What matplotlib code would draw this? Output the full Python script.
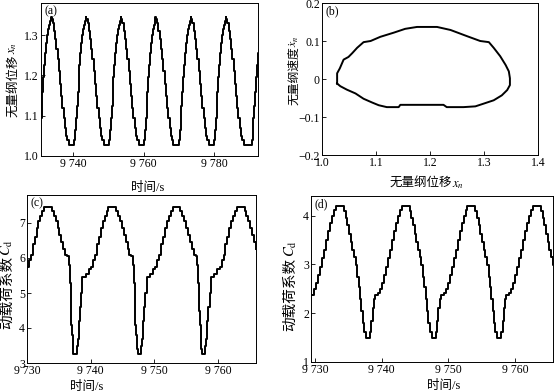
import matplotlib
matplotlib.use('Agg')
import matplotlib.pyplot as plt

plt.rcParams['font.family'] = ['Liberation Serif', 'Noto Sans CJK SC']
plt.rcParams['mathtext.fontset'] = 'stix'
plt.rcParams['axes.unicode_minus'] = True

# ---------------- data ----------------
# (a) displacement time history
a_t = [9730.8, 9731.05, 9731.3, 9731.55, 9731.8, 9732.05, 9732.3, 9732.55, 9732.8, 9733.1,
       9733.45, 9733.7, 9733.9, 9734.2, 9734.55, 9734.9, 9735.25, 9735.6, 9735.95, 9736.3, 9736.65, 9737.0, 9737.35, 9737.7, 9738.05, 9738.4, 9738.8,
       9740.3, 9740.55, 9740.8, 9741.05, 9741.3, 9741.55, 9741.8, 9742.05, 9742.3, 9742.55, 9742.8, 9743.1,
       9743.35, 9743.6, 9743.8, 9744.1, 9744.45, 9744.8, 9745.15, 9745.5, 9745.85, 9746.2, 9746.55, 9746.9, 9747.25, 9747.6, 9747.95, 9748.3, 9748.7,
       9750.2, 9750.45, 9750.7, 9750.95, 9751.2, 9751.45, 9751.7, 9751.95, 9752.2, 9752.45, 9752.7, 9753.0,
       9753.25, 9753.5, 9753.7, 9754.0, 9754.35, 9754.7, 9755.05, 9755.4, 9755.75, 9756.1, 9756.45, 9756.8, 9757.15, 9757.5, 9757.85, 9758.2, 9758.6,
       9760.1, 9760.35, 9760.6, 9760.85, 9761.1, 9761.35, 9761.6, 9761.85, 9762.1, 9762.35, 9762.6, 9762.9,
       9763.15, 9763.4, 9763.6, 9763.9, 9764.25, 9764.6, 9764.95, 9765.3, 9765.65, 9766.0, 9766.35, 9766.7, 9767.05, 9767.4, 9767.75, 9768.1, 9768.5,
       9770.0, 9770.25, 9770.5, 9770.75, 9771.0, 9771.25, 9771.5, 9771.75, 9772.0, 9772.25, 9772.5, 9772.8,
       9773.15, 9773.4, 9773.6, 9773.9, 9774.25, 9774.6, 9774.95, 9775.3, 9775.65, 9776.0, 9776.35, 9776.7, 9777.05, 9777.4, 9777.75, 9778.1, 9778.5,
       9780.0, 9780.25, 9780.5, 9780.75, 9781.0, 9781.25, 9781.5, 9781.75, 9782.0, 9782.25, 9782.5, 9782.8,
       9783.05, 9783.3, 9783.5, 9783.8, 9784.15, 9784.5, 9784.85, 9785.2, 9785.55, 9785.9, 9786.25, 9786.6, 9786.95, 9787.3, 9787.65, 9788.0, 9788.4,
       9790.7, 9790.95, 9791.2, 9791.45, 9791.7, 9791.95, 9792.2, 9792.45, 9792.7]
a_x = [1.095, 1.125, 1.16, 1.195, 1.225, 1.255, 1.28, 1.3, 1.315, 1.325,
       1.335, 1.345, 1.34, 1.33, 1.31, 1.29, 1.265, 1.24, 1.21, 1.18, 1.15, 1.12, 1.095, 1.07, 1.05, 1.04, 1.028,
       1.04, 1.065, 1.095, 1.125, 1.16, 1.195, 1.225, 1.255, 1.28, 1.3, 1.315, 1.325,
       1.335, 1.345, 1.34, 1.33, 1.31, 1.29, 1.265, 1.24, 1.21, 1.18, 1.15, 1.12, 1.095, 1.07, 1.05, 1.04, 1.028,
       1.04, 1.065, 1.095, 1.125, 1.16, 1.195, 1.225, 1.255, 1.28, 1.3, 1.315, 1.325,
       1.335, 1.345, 1.34, 1.33, 1.31, 1.29, 1.265, 1.24, 1.21, 1.18, 1.15, 1.12, 1.095, 1.07, 1.05, 1.04, 1.028,
       1.04, 1.065, 1.095, 1.125, 1.16, 1.195, 1.225, 1.255, 1.28, 1.3, 1.315, 1.325,
       1.335, 1.345, 1.34, 1.33, 1.31, 1.29, 1.265, 1.24, 1.21, 1.18, 1.15, 1.12, 1.095, 1.07, 1.05, 1.04, 1.028,
       1.04, 1.065, 1.095, 1.125, 1.16, 1.195, 1.225, 1.255, 1.28, 1.3, 1.315, 1.325,
       1.335, 1.345, 1.34, 1.33, 1.31, 1.29, 1.265, 1.24, 1.21, 1.18, 1.15, 1.12, 1.095, 1.07, 1.05, 1.04, 1.028,
       1.04, 1.065, 1.095, 1.125, 1.16, 1.195, 1.225, 1.255, 1.28, 1.3, 1.315, 1.325,
       1.335, 1.345, 1.34, 1.33, 1.31, 1.29, 1.265, 1.24, 1.21, 1.18, 1.15, 1.12, 1.095, 1.07, 1.05, 1.04, 1.028,
       1.04, 1.065, 1.095, 1.125, 1.16, 1.195, 1.225, 1.255, 1.28]

# (b) phase portrait
b_x = [1.028, 1.028, 1.033, 1.040, 1.049, 1.056, 1.065, 1.077, 1.090, 1.108, 1.133, 1.154, 1.176, 1.213,
       1.238, 1.268, 1.293, 1.309, 1.318, 1.330, 1.340, 1.346, 1.348, 1.348, 1.343, 1.333, 1.318, 1.299,
       1.284, 1.262, 1.231, 1.225, 1.145, 1.142, 1.120, 1.105, 1.093, 1.077, 1.062, 1.046, 1.034, 1.028]
b_v = [-0.012, 0.015, 0.028, 0.051, 0.058, 0.068, 0.082, 0.097, 0.100, 0.111, 0.122, 0.132, 0.137, 0.137,
       0.129, 0.113, 0.100, 0.097, 0.082, 0.060, 0.037, 0.020, 0.002, -0.016, -0.029, -0.043, -0.056, -0.065,
       -0.072, -0.074, -0.074, -0.068, -0.068, -0.074, -0.074, -0.069, -0.062, -0.052, -0.038, -0.028, -0.019, -0.012]

# (c) dynamic load coefficient
c_t = [9730.0, 9730.3, 9730.6, 9730.9, 9731.2, 9731.5, 9731.8, 9732.1, 9732.4, 9732.7, 9733.9, 9734.2, 9734.5, 9734.8,
       9735.1, 9735.4, 9735.7, 9736.0, 9736.3, 9736.6, 9736.75, 9736.85, 9736.95, 9737.1, 9737.2, 9737.3, 9737.8, 9738.0,
       9738.15, 9738.3, 9738.5, 9738.7, 9739.2, 9739.7,
       9740.1, 9740.4, 9740.7, 9741.0, 9741.3, 9741.6, 9741.9, 9742.2, 9742.5, 9742.8, 9744.0, 9744.3, 9744.6, 9744.9,
       9745.2, 9745.5, 9745.8, 9746.1, 9746.4, 9746.7, 9746.85, 9746.95, 9747.05, 9747.2, 9747.3, 9747.4, 9747.9, 9748.1,
       9748.25, 9748.4, 9748.6, 9748.8, 9749.3, 9749.8,
       9750.2, 9750.5, 9750.8, 9751.1, 9751.4, 9751.7, 9752.0, 9752.3, 9752.6, 9752.9, 9754.1, 9754.4, 9754.7, 9755.0,
       9755.3, 9755.6, 9755.9, 9756.2, 9756.5, 9756.8, 9756.95, 9757.05, 9757.15, 9757.3, 9757.4, 9757.5, 9758.0, 9758.2,
       9758.35, 9758.5, 9758.7, 9758.9, 9759.4, 9759.9,
       9760.3, 9760.6, 9760.9, 9761.2, 9761.5, 9761.8, 9762.1, 9762.4, 9762.7, 9763.0, 9764.2, 9764.5, 9764.8, 9765.1,
       9765.4, 9765.7, 9766.0]
c_cd = [5.75, 5.95, 6.1, 6.4, 6.6, 6.85, 7.05, 7.2, 7.35, 7.45, 7.35, 7.2, 7.05, 6.85,
        6.65, 6.45, 6.25, 6.1, 6.05, 5.8, 5.3, 4.5, 4.1, 3.8, 3.4, 3.25, 3.5, 3.7,
        4.2, 4.6, 5.0, 5.45, 5.55, 5.7,
        5.75, 5.95, 6.1, 6.4, 6.6, 6.85, 7.05, 7.2, 7.35, 7.45, 7.35, 7.2, 7.05, 6.85,
        6.65, 6.45, 6.25, 6.1, 6.05, 5.8, 5.3, 4.5, 4.1, 3.8, 3.4, 3.25, 3.5, 3.7,
        4.2, 4.6, 5.0, 5.45, 5.55, 5.7,
        5.75, 5.95, 6.1, 6.4, 6.6, 6.85, 7.05, 7.2, 7.35, 7.45, 7.35, 7.2, 7.05, 6.85,
        6.65, 6.45, 6.25, 6.1, 6.05, 5.8, 5.3, 4.5, 4.1, 3.8, 3.4, 3.25, 3.5, 3.7,
        4.2, 4.6, 5.0, 5.45, 5.55, 5.7,
        5.75, 5.95, 6.1, 6.4, 6.6, 6.85, 7.05, 7.2, 7.35, 7.45, 7.35, 7.2, 7.05, 6.85,
        6.65, 6.45, 6.25]

# (d) dynamic load coefficient
d_t = [9729.6, 9729.9, 9730.2, 9730.5, 9730.8, 9731.1, 9731.4, 9731.7, 9732.0, 9732.3, 9732.6, 9732.9, 9733.15,
       9734.35, 9734.6, 9734.85, 9735.1, 9735.35, 9735.6, 9735.85, 9736.1, 9736.35, 9736.55, 9736.75, 9736.95, 9737.15, 9737.35,
       9737.65, 9738.25, 9738.45, 9738.65, 9738.85, 9739.0, 9739.45, 9739.75, 9740.05, 9740.35, 9740.65, 9740.95, 9741.25,
       9741.55, 9741.85, 9742.15, 9742.45, 9742.75, 9743.0,
       9744.2, 9744.45, 9744.7, 9744.95, 9745.2, 9745.45, 9745.7, 9745.95, 9746.2, 9746.4, 9746.6, 9746.8, 9747.0, 9747.2,
       9747.5, 9748.1, 9748.3, 9748.5, 9748.7, 9748.85, 9749.3, 9749.6, 9749.9, 9750.2, 9750.5, 9750.8, 9751.1,
       9751.4, 9751.7, 9752.0, 9752.3, 9752.6, 9752.85,
       9754.05, 9754.3, 9754.55, 9754.8, 9755.05, 9755.3, 9755.55, 9755.8, 9756.05, 9756.25, 9756.45, 9756.65, 9756.85, 9757.05,
       9757.35, 9757.95, 9758.15, 9758.35, 9758.55, 9758.7, 9759.15, 9759.45, 9759.75, 9760.05, 9760.35, 9760.65, 9760.95,
       9761.25, 9761.55, 9761.85, 9762.15, 9762.45, 9762.7,
       9763.9, 9764.15, 9764.4, 9764.65, 9764.9, 9765.15, 9765.4, 9765.65, 9765.9]
d_cd = [2.38, 2.5, 2.62, 2.78, 2.95, 3.12, 3.3, 3.5, 3.68, 3.85, 4.0, 4.12, 4.19,
        4.1, 3.95, 3.8, 3.62, 3.45, 3.3, 3.15, 2.98, 2.75, 2.53, 2.3, 2.05, 1.8, 1.62,
        1.5, 1.62, 1.85, 2.1, 2.3, 2.38, 2.42, 2.5, 2.62, 2.78, 2.95, 3.12, 3.3,
        3.5, 3.68, 3.85, 4.0, 4.12, 4.19,
        4.1, 3.95, 3.8, 3.62, 3.45, 3.3, 3.15, 2.98, 2.75, 2.53, 2.3, 2.05, 1.8, 1.62,
        1.5, 1.62, 1.85, 2.1, 2.3, 2.38, 2.42, 2.5, 2.62, 2.78, 2.95, 3.12, 3.3,
        3.5, 3.68, 3.85, 4.0, 4.12, 4.19,
        4.1, 3.95, 3.8, 3.62, 3.45, 3.3, 3.15, 2.98, 2.75, 2.53, 2.3, 2.05, 1.8, 1.62,
        1.5, 1.62, 1.85, 2.1, 2.3, 2.38, 2.42, 2.5, 2.62, 2.78, 2.95, 3.12, 3.3,
        3.5, 3.68, 3.85, 4.0, 4.12, 4.19,
        4.1, 3.95, 3.8, 3.62, 3.45, 3.3, 3.15, 2.98, 2.75]

# tick values / labels
a_xticks = [9740, 9760, 9780]
a_xticklabels = ['9 740', '9 760', '9 780']
a_yticks = [1.0, 1.1, 1.2, 1.3]
a_yticklabels = ['1.0', '1.1', '1.2', '1.3']
b_xticks = [1.0, 1.1, 1.2, 1.3, 1.4]
b_xticklabels = ['1.0', '1.1', '1.2', '1.3', '1.4']
b_yticks = [-0.2, -0.1, 0, 0.1, 0.2]
b_yticklabels = ['\u22120.2', '\u22120.1', '0', '0.1', '0.2']
cd_xticks = [9730, 9740, 9750, 9760]
cd_xticklabels = ['9 730', '9 740', '9 750', '9 760']
c_yticks = [3, 4, 5, 6, 7]
d_yticks = [1, 2, 3, 4]

time_label = '时间/s'
disp_cjk, disp_sym = '无量纲位移', '$x_n$'
vel_cjk, vel_sym = '无量纲速度', '$\\dot{x}_n$'
cd_cjk, cd_sym = '动载荷系数', '$C_{\\rm d}$'

# ---------------- figure ----------------
W, H = 555, 392
fig = plt.figure(figsize=(W / 100, H / 100), dpi=100)


def add_ax(l, r, t, b):
    return fig.add_axes([l / W, 1 - b / H, (r - l) / W, (b - t) / H])


def ylabel2(ax, cjk, sym, x, y, fs):
    t1 = ax.text(x, y, cjk, transform=ax.transAxes, rotation=90,
                 ha='center', va='center', fontsize=fs, clip_on=False)
    ax.annotate(sym, xy=(0.5, 1.0), xycoords=t1, rotation=90,
                ha='center', va='bottom', fontsize=fs, annotation_clip=False)


def xlabel2(ax, cjk, sym, x, y, fs):
    t1 = ax.text(x, y, cjk, transform=ax.transAxes,
                 ha='right', va='baseline', fontsize=fs, clip_on=False)
    ax.annotate(sym, xy=(1.0, 0.16), xycoords=t1,
                ha='left', va='baseline', fontsize=fs, annotation_clip=False)


ax_a = add_ax(41, 258, 3, 156)
ax_b = add_ax(322, 538, 3, 155)
ax_c = add_ax(27, 256, 195, 363)
ax_d = add_ax(311, 553, 196, 362)

lw = 1.4
ax_a.plot(a_t, a_x, color='black', lw=lw, drawstyle='steps-post')
ax_b.plot(b_x, b_v, color='black', lw=lw)
ax_c.plot(c_t, c_cd, color='black', lw=lw, drawstyle='steps-post')
ax_d.plot(d_t, d_cd, color='black', lw=lw, drawstyle='steps-post')

ax_a.set_xlim(9730.9, 9792.5)
ax_a.set_ylim(1.0, 1.38)
ax_a.set_xticks(a_xticks, a_xticklabels)
ax_a.set_yticks(a_yticks, a_yticklabels)

ax_b.set_xlim(1.0, 1.4)
ax_b.set_ylim(-0.2, 0.2)
ax_b.set_xticks(b_xticks, b_xticklabels)
ax_b.set_yticks(b_yticks, b_yticklabels)

ax_c.set_xlim(9730, 9766)
ax_c.set_ylim(3, 7.8)
ax_c.set_xticks(cd_xticks, cd_xticklabels)
ax_c.set_yticks(c_yticks, [str(v) for v in c_yticks])

ax_d.set_xlim(9729.4, 9765.7)
ax_d.set_ylim(1, 4.4)
ax_d.set_xticks(cd_xticks, cd_xticklabels)
ax_d.set_yticks(d_yticks, [str(v) for v in d_yticks])

fs_tick = 8.5
fs_lab = 9
for ax, tag in [(ax_a, '(a)'), (ax_b, '(b)'), (ax_c, '(c)'), (ax_d, '(d)')]:
    ax.tick_params(direction='in', length=3, width=0.6, labelsize=fs_tick, pad=1.5)
    for s in ax.spines.values():
        s.set_linewidth(0.7)
    ax.text(0.015, 0.985, tag, transform=ax.transAxes, ha='left', va='top', fontsize=fs_tick)

ax_a.set_xlabel(time_label, fontsize=fs_lab)
ax_a.xaxis.set_label_coords(0.49, -0.17)
ylabel2(ax_a, disp_cjk, disp_sym, -0.128, 0.46, 9)

xlabel2(ax_b, disp_cjk, disp_sym, 0.6, -0.205, fs_lab)
ylabel2(ax_b, vel_cjk, vel_sym, -0.13, 0.52, 8.5)

ax_c.set_xlabel(time_label, fontsize=fs_lab)
ax_c.xaxis.set_label_coords(0.26, -0.11)
ylabel2(ax_c, cd_cjk, cd_sym, -0.087, 0.42, 10.5)

ax_d.set_xlabel(time_label, fontsize=fs_lab)
ax_d.xaxis.set_label_coords(0.55, -0.11)
ylabel2(ax_d, cd_cjk, cd_sym, -0.084, 0.41, 10.5)

fig.savefig('out.png', dpi=100)
